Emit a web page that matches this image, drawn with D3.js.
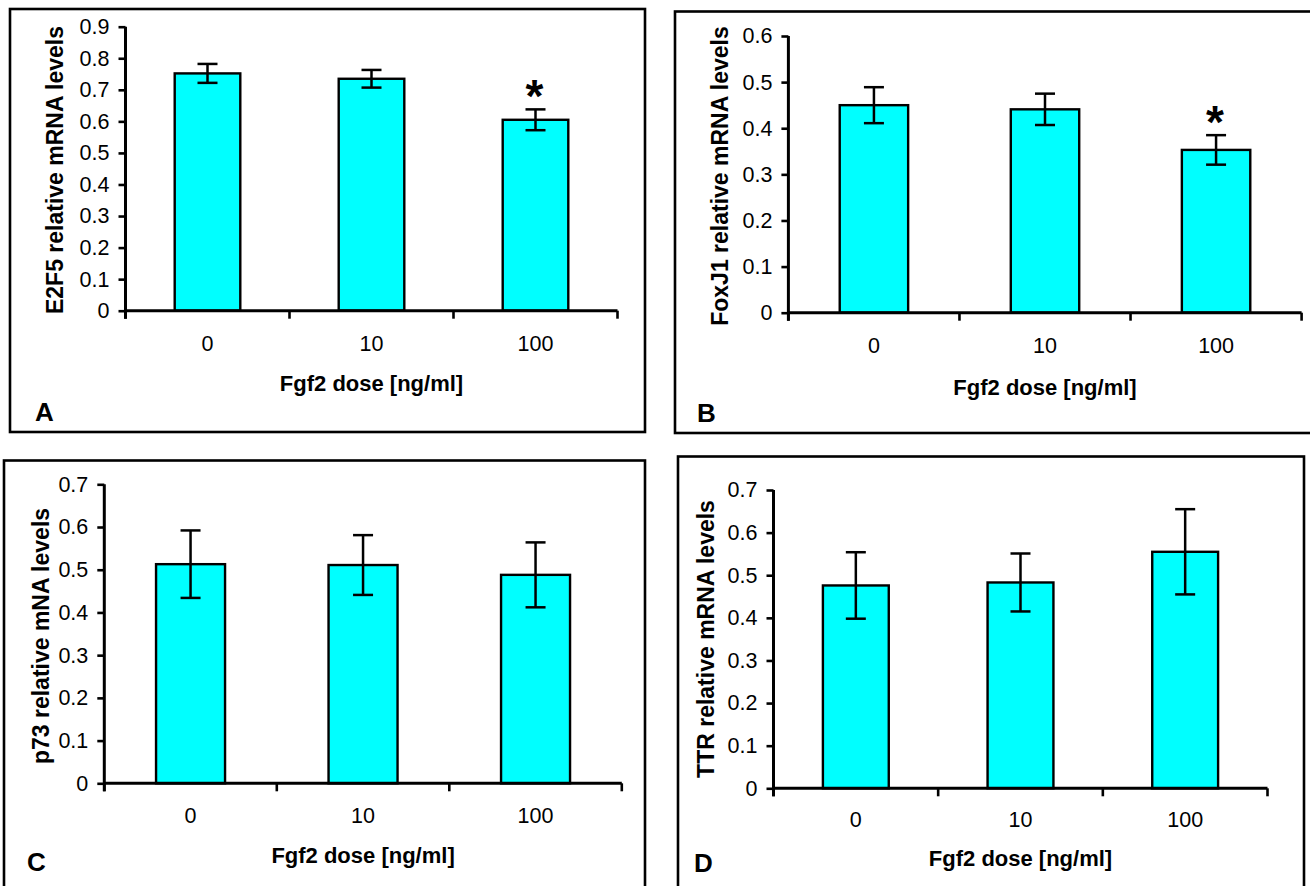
<!DOCTYPE html>
<html>
<head>
<meta charset="utf-8">
<script src="https://cdn.jsdelivr.net/npm/d3@7/dist/d3.min.js"></script>
<style>
  html, body { margin: 0; padding: 0; background: #fff; }
  svg { display: block; font-family: "Liberation Sans", Arial, Helvetica, sans-serif; }
</style>
</head>
<body>
<svg id="chart" width="1310" height="886"></svg>
<script>
// ---------- data ----------
const doses = ["0", "10", "100"];

const e2f5Mean = [0.752, 0.735, 0.605];
const e2f5Err  = [0.030, 0.028, 0.033];
const e2f5Sig  = [false, false, true];

const foxj1Mean = [0.450, 0.441, 0.353];
const foxj1Err  = [0.039, 0.034, 0.032];
const foxj1Sig  = [false, false, true];

const p73Mean = [0.513, 0.511, 0.488];
const p73Err  = [0.079, 0.070, 0.076];
const p73Sig  = [false, false, false];

const ttrMean = [0.476, 0.483, 0.555];
const ttrErr  = [0.078, 0.068, 0.100];
const ttrSig  = [false, false, false];

const ticksA = [0, 0.1, 0.2, 0.3, 0.4, 0.5, 0.6, 0.7, 0.8, 0.9];
const ticksB = [0, 0.1, 0.2, 0.3, 0.4, 0.5, 0.6];
const ticksC = [0, 0.1, 0.2, 0.3, 0.4, 0.5, 0.6, 0.7];
const ticksD = [0, 0.1, 0.2, 0.3, 0.4, 0.5, 0.6, 0.7];

const xTitle = "Fgf2 dose [ng/ml]";
const yTitles = ["E2F5 relative mRNA levels", "FoxJ1 relative mRNA levels",
                 "p73 relative mNA levels", "TTR relative mRNA levels"];
const panelLetters = ["A", "B", "C", "D"];

// ---------- layout ----------
const panels = [
  { letter: panelLetters[0], ytitle: yTitles[0], mean: e2f5Mean, err: e2f5Err, sig: e2f5Sig, ticks: ticksA,
    frame: {x: 10, y: 9, w: 635, h: 423},
    plot: {left: 125.5, right: 617.5, top: 26.7, bottom: 310.7},
    ylabX: 55, ylabY: 170, tickPad: 25, titleDy: 72, letterPos: [35, 412] },
  { letter: panelLetters[1], ytitle: yTitles[1], mean: foxj1Mean, err: foxj1Err, sig: foxj1Sig, ticks: ticksB,
    frame: {x: 675, y: 11.5, w: 640, h: 421.5},
    plot: {left: 788.4, right: 1301.6, top: 36, bottom: 312.7},
    ylabX: 720, ylabY: 176, tickPad: 25, titleDy: 74, letterPos: [697, 413] },
  { letter: panelLetters[2], ytitle: yTitles[2], mean: p73Mean, err: p73Err, sig: p73Sig, ticks: ticksC,
    frame: {x: 4, y: 460.5, w: 641, h: 440},
    plot: {left: 104.3, right: 621.8, top: 484.3, bottom: 783.3},
    ylabX: 40.5, ylabY: 636, tickPad: 24.5, titleDy: 71.7, letterPos: [27, 862] },
  { letter: panelLetters[3], ytitle: yTitles[3], mean: ttrMean, err: ttrErr, sig: ttrSig, ticks: ticksD,
    frame: {x: 678, y: 456.5, w: 626, h: 440},
    plot: {left: 773.5, right: 1267.5, top: 490, bottom: 788.3},
    ylabX: 705.4, ylabY: 639, tickPad: 23, titleDy: 69.7, letterPos: [694, 863] }
];

const svg = d3.select("#chart");
const fillColor = "#00FFFF";
const fmt = d => d === 0 ? "0" : d3.format(".1f")(d);
const FONT = "'Liberation Sans', Arial, sans-serif";

panels.forEach(p => {
  const g = svg.append("g");

  // frame
  g.append("rect")
    .attr("x", p.frame.x).attr("y", p.frame.y)
    .attr("width", p.frame.w).attr("height", p.frame.h)
    .attr("fill", "none").attr("stroke", "#000").attr("stroke-width", 2.6);

  const yMax = p.ticks[p.ticks.length - 1];
  const y = d3.scaleLinear().domain([0, yMax]).range([p.plot.bottom, p.plot.top]);
  const x = d3.scaleBand().domain(doses).range([p.plot.left, p.plot.right])
    .paddingInner(0.6).paddingOuter(0.3);

  const rows = doses.map((d, i) => ({dose: d, mean: p.mean[i], err: p.err[i], sig: p.sig[i]}));
  const cx = d => x(d.dose) + x.bandwidth() / 2;

  // bars
  g.selectAll("rect.bar").data(rows).join("rect")
    .attr("class", "bar")
    .attr("x", d => x(d.dose))
    .attr("y", d => y(d.mean))
    .attr("width", x.bandwidth())
    .attr("height", d => y(0) - y(d.mean))
    .attr("fill", fillColor)
    .attr("stroke", "#000").attr("stroke-width", 2.4);

  // error bars
  const cap = 10;
  const eb = g.selectAll("g.eb").data(rows).join("g").attr("class", "eb")
    .attr("stroke", "#000").attr("stroke-width", 2.5);
  eb.append("line")
    .attr("x1", cx).attr("x2", cx)
    .attr("y1", d => y(d.mean + d.err)).attr("y2", d => y(d.mean - d.err));
  eb.append("line")
    .attr("x1", d => cx(d) - cap).attr("x2", d => cx(d) + cap)
    .attr("y1", d => y(d.mean + d.err)).attr("y2", d => y(d.mean + d.err));
  eb.append("line")
    .attr("x1", d => cx(d) - cap).attr("x2", d => cx(d) + cap)
    .attr("y1", d => y(d.mean - d.err)).attr("y2", d => y(d.mean - d.err));

  // significance asterisks
  g.selectAll("text.sig").data(rows.filter(d => d.sig)).join("text")
    .attr("class", "sig")
    .attr("x", d => cx(d) - 1)
    .attr("y", d => y(d.mean + d.err) + 3)
    .attr("text-anchor", "middle")
    .attr("font-size", 46).attr("font-weight", "bold")
    .text("*");

  // y axis
  const yAxis = d3.axisLeft(y).tickValues(p.ticks).tickFormat(fmt)
    .tickSize(7).tickSizeOuter(0).tickPadding(9);
  const ya = g.append("g").attr("transform", `translate(${p.plot.left},0)`).call(yAxis);
  ya.select(".domain").remove();
  ya.selectAll(".tick line").attr("stroke", "#000").attr("stroke-width", 2.6);
  ya.selectAll(".tick text").attr("font-size", 21.5).attr("fill", "#000")
    .attr("font-family", FONT);
  ya.append("line")
    .attr("x1", 0).attr("x2", 0)
    .attr("y1", y(yMax)).attr("y2", y(0) + 8)
    .attr("stroke", "#000").attr("stroke-width", 3);

  // x axis: line, boundary ticks, labels
  const xa = g.append("g");
  xa.append("line")
    .attr("x1", p.plot.left).attr("x2", p.plot.right)
    .attr("y1", y(0)).attr("y2", y(0))
    .attr("stroke", "#000").attr("stroke-width", 3);
  const bounds = d3.range(doses.length + 1).map(i => x.range()[0] + i * x.step());
  xa.selectAll("line.bt").data(bounds).join("line")
    .attr("class", "bt")
    .attr("x1", d => d).attr("x2", d => d)
    .attr("y1", y(0)).attr("y2", y(0) + 8)
    .attr("stroke", "#000").attr("stroke-width", 2.6);
  const xAxis = d3.axisBottom(x).tickSize(0).tickPadding(p.tickPad);
  const xl = g.append("g").attr("transform", `translate(0,${y(0)})`).call(xAxis);
  xl.select(".domain").remove();
  xl.selectAll(".tick text").attr("font-size", 21.5).attr("fill", "#000")
    .attr("font-family", FONT);

  // x title
  g.append("text")
    .attr("x", (p.plot.left + p.plot.right) / 2)
    .attr("y", y(0) + p.titleDy)
    .attr("dy", "0.36em")
    .attr("text-anchor", "middle")
    .attr("font-size", 22).attr("font-weight", "bold")
    .text(xTitle);

  // y title
  g.append("text")
    .attr("transform", `translate(${p.ylabX},${p.ylabY}) rotate(-90)`)
    .attr("dy", "0.36em")
    .attr("text-anchor", "middle")
    .attr("font-size", 23).attr("font-weight", "bold")
    .text(p.ytitle);

  // panel letter
  g.append("text")
    .attr("x", p.letterPos[0]).attr("y", p.letterPos[1])
    .attr("dy", "0.36em")
    .attr("font-size", 26).attr("font-weight", "bold")
    .text(p.letter);
});
</script>
</body>
</html>
